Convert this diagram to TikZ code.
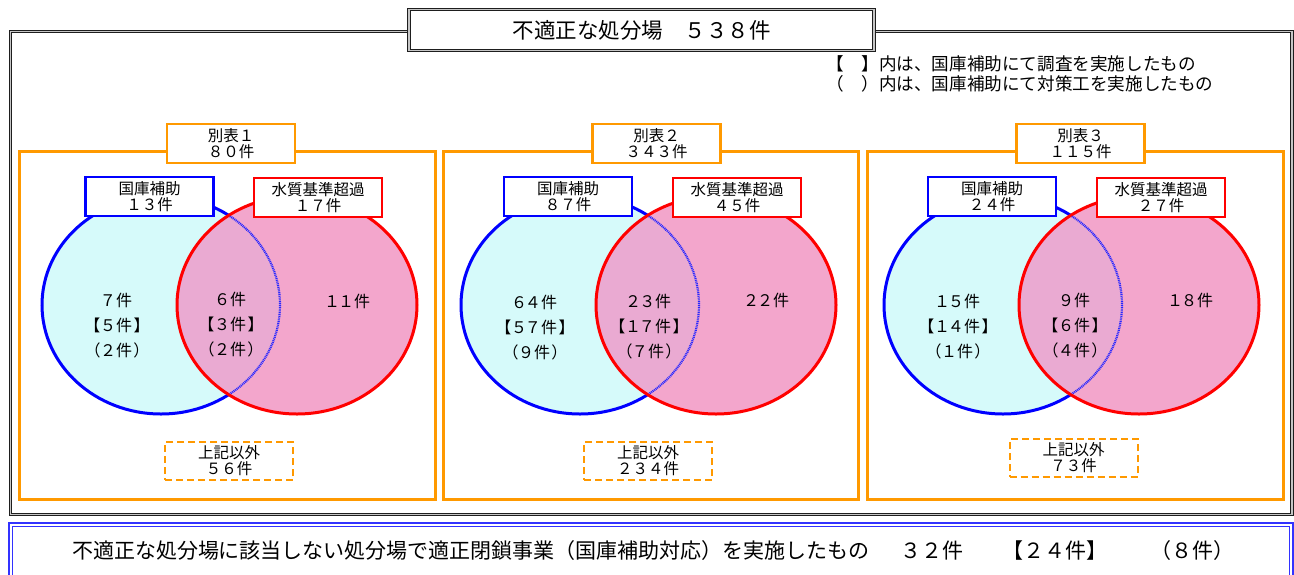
\documentclass[tikz,border=0pt]{standalone}
\usepackage{fontspec}
\setmainfont{Noto Sans CJK JP}
\newfontfamily\jpp[RawFeature=+palt, LetterSpace=12]{Noto Sans CJK JP}
\definecolor{orng}{RGB}{255,153,0}
\definecolor{bl}{RGB}{0,0,255}
\definecolor{rd}{RGB}{255,0,0}
\definecolor{cyanfill}{RGB}{214,250,250}
\definecolor{pinkfill}{RGB}{243,166,204}
\definecolor{ovfill}{RGB}{234,170,210}
\definecolor{frm}{RGB}{30,30,30}
\definecolor{bbl}{RGB}{50,50,255}
\newcommand\lblf{\fontsize{15.5}{16}\selectfont}
\newcommand\cirf{\jpp\fontsize{16}{25}\selectfont}
\newcommand\vennpair[2]{%
 \fill[cyanfill] (#1,305) ellipse [x radius=119, y radius=109];
 \draw[bl, line width=3] (#1,305) ellipse [x radius=119, y radius=109];
 \fill[pinkfill] (#2,305) ellipse [x radius=120, y radius=109];
 \begin{scope}
  \clip (#1,305) ellipse [x radius=119, y radius=109];
  \fill[ovfill] (#2,305) ellipse [x radius=120, y radius=109];
 \end{scope}
 \draw[rd, line width=3] (#2,305) ellipse [x radius=120, y radius=109];
 \begin{scope}
  \clip (#2,305) ellipse [x radius=118.5, y radius=107.5];
  \draw[bl!85, line width=2.2, dash pattern=on 1pt off 0.8pt] (#1,305) ellipse [x radius=119, y radius=109];
 \end{scope}
}
\tikzset{
 tbox/.style={draw=orng, line width=2.5, fill=white, minimum width=128, minimum height=39, inner sep=0, align=center, font=\lblf},
 bbox/.style={tbox, draw=bl},
 rbox/.style={tbox, draw=rd},
 obox/.style={tbox, line width=2, dash pattern=on 7pt off 4pt, minimum height=38},
 ctext/.style={align=center, font=\cirf, inner sep=0},
 panel/.style={draw=orng, line width=3},
 btext/.style={inner sep=0, font=\fontsize{21}{22}\selectfont},
}
\begin{document}
\begin{tikzpicture}[x=1pt,y=-1pt]
\useasboundingbox (0,0) rectangle (1294,574);
% outer frame
\draw[frm, double=gray!45, line width=1.3, double distance=1.3] (10.5,31.5) rectangle (1292,514.5);
\node[draw=frm, double=gray!45, line width=1.2, double distance=1.2, fill=white, minimum width=465, minimum height=41, inner sep=0, font=\fontsize{21.5}{22}\selectfont] (title) at (641.5,30) {不適正な処分場　５３８件};
% legend
\node[anchor=west, inner sep=0, font=\fontsize{17.6}{18}\selectfont] (leg1) at (826,64) {【　】内は、国庫補助にて調査を実施したもの};
\node[anchor=west, inner sep=0, font=\fontsize{17.6}{18}\selectfont] (leg2) at (826,84) {（　）内は、国庫補助にて対策工を実施したもの};
% panels
\draw[panel] (19,151) rectangle (435,499);
\draw[panel] (443,151) rectangle (858,499);
\draw[panel] (867,151) rectangle (1283,499);
\vennpair{161}{297}
\vennpair{580}{716}
\vennpair{1003}{1139}
% panel 1
\node[tbox] (p1t) at (231,143.5) {別表１\\８０件};
\node[bbox] (p1b) at (149.5,196.5) {国庫補助\\１３件};
\node[rbox] (p1r) at (318,197.5) {水質基準超過\\１７件};
\node[ctext] (p1l) at (117,326) {７件\\【５件】\\（２件）};
\node[ctext] (p1m) at (231,325) {６件\\【３件】\\（２件）};
\node[ctext] (p1n) at (348,301) {１１件};
\node[obox] (p1o) at (229,461) {上記以外\\５６件};
% panel 2
\node[tbox] (p2t) at (656.5,143.5) {別表２\\３４３件};
\node[bbox] (p2b) at (568,196.5) {国庫補助\\８７件};
\node[rbox] (p2r) at (737,197.5) {水質基準超過\\４５件};
\node[ctext] (p2l) at (535,328) {６４件\\【５７件】\\（９件）};
\node[ctext] (p2m) at (649,327) {２３件\\【１７件】\\（７件）};
\node[ctext] (p2n) at (767,300) {２２件};
\node[obox] (p2o) at (648,461) {上記以外\\２３４件};
% panel 3
\node[tbox] (p3t) at (1080.5,143.5) {別表３\\１１５件};
\node[bbox] (p3b) at (992,196.5) {国庫補助\\２４件};
\node[rbox] (p3r) at (1161,197.5) {水質基準超過\\２７件};
\node[ctext] (p3l) at (958,327) {１５件\\【１４件】\\（１件）};
\node[ctext] (p3m) at (1075,326) {９件\\【６件】\\（４件）};
\node[ctext] (p3n) at (1191,300) {１８件};
\node[obox] (p3o) at (1073.5,458) {上記以外\\７３件};
% bottom box
\draw[bbl, double=white, line width=1.5, double distance=2] (10.5,524.5) rectangle (1291,590);
\node[btext] (bt1) at (471,551) {不適正な処分場に該当しない処分場で適正閉鎖事業（国庫補助対応）を実施したもの};
\node[btext] (bt2) at (932,551) {３２件};
\node[btext] (bt3) at (1055,551) {【２４件】};
\node[btext] (bt4) at (1192,551) {（８件）};
\end{tikzpicture}
\end{document}
